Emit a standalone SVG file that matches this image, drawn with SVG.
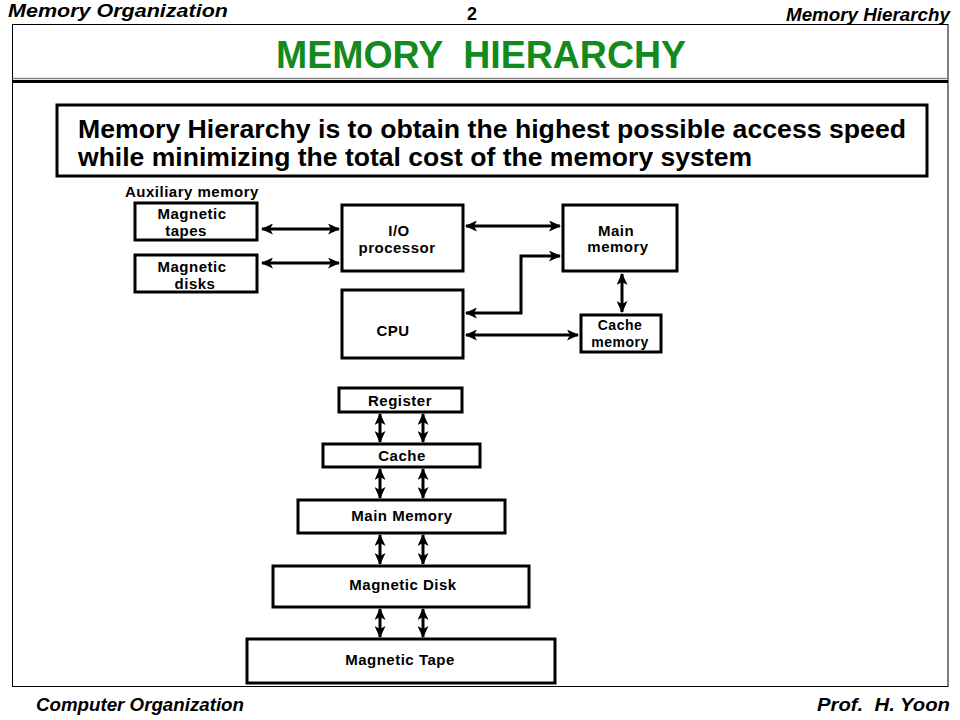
<svg xmlns="http://www.w3.org/2000/svg" width="960" height="720" viewBox="0 0 960 720">
<style>
.hdr{font-family:"Liberation Sans",Arial,sans-serif;font-weight:bold;font-style:italic;font-size:18px;fill:#000}
.ttl{font-family:"Liberation Sans",Arial,sans-serif;font-weight:bold;font-size:39px;fill:#128a1e}
.big{font-family:"Liberation Sans",Arial,sans-serif;font-weight:bold;font-size:25px;fill:#000}
.lbl{font-family:"Liberation Sans",Arial,sans-serif;font-weight:bold;font-size:15px;letter-spacing:0.5px;fill:#000}
.sm{font-size:14px}
.box{fill:#fff;stroke:#000;stroke-width:3}
.con{fill:none;stroke:#000;stroke-width:3}
</style>
<defs>
<marker id="ah" viewBox="0 0 12 11" refX="11" refY="5.5" markerWidth="12" markerHeight="11" markerUnits="userSpaceOnUse" orient="auto-start-reverse">
<path d="M0,0 L12,5.5 L0,11 L3,5.5 Z" fill="#000"/>
</marker>
</defs>
<rect width="960" height="720" fill="#fff"/>
<g id="frame">
<rect x="12.5" y="24.5" width="935.5" height="662" fill="none" stroke="#000" stroke-width="1"/>
<line x1="12.5" y1="78.5" x2="948" y2="78.5" stroke="#888" stroke-width="1.5"/>
<line x1="12.5" y1="81.5" x2="948" y2="81.5" stroke="#000" stroke-width="3"/>
</g>
<g id="header">
<text class="hdr" x="8" y="17" textLength="220" lengthAdjust="spacingAndGlyphs">Memory Organization</text>
<text class="hdr" x="467" y="20" style="font-style:normal">2</text>
<text class="hdr" x="950" y="21" text-anchor="end" textLength="164" lengthAdjust="spacingAndGlyphs">Memory Hierarchy</text>
<text class="ttl" x="481" y="68" text-anchor="middle" textLength="410" lengthAdjust="spacingAndGlyphs" xml:space="preserve">MEMORY  HIERARCHY</text>
</g>
<g id="statement">
<rect x="57" y="105" width="870" height="71" fill="#fff" stroke="#000" stroke-width="3"/>
<text class="big" x="78" y="138" textLength="828" lengthAdjust="spacingAndGlyphs">Memory Hierarchy is to obtain the highest possible access speed</text>
<text class="big" x="78" y="166" textLength="674" lengthAdjust="spacingAndGlyphs">while minimizing the total cost of the memory system</text>
</g>
<g id="aux-label">
<text class="lbl" x="125" y="197">Auxiliary memory</text>
</g>
<g id="connectors">
<line class="con" x1="262" y1="229" x2="339" y2="229" marker-start="url(#ah)" marker-end="url(#ah)"/>
<line class="con" x1="262" y1="263" x2="339" y2="263" marker-start="url(#ah)" marker-end="url(#ah)"/>
<line class="con" x1="466" y1="226" x2="560" y2="226" marker-start="url(#ah)" marker-end="url(#ah)"/>
<polyline class="con" points="466,313 521,313 521,256 560,256" marker-start="url(#ah)" marker-end="url(#ah)"/>
<line class="con" x1="466" y1="335" x2="578" y2="335" marker-start="url(#ah)" marker-end="url(#ah)"/>
<line class="con" x1="622" y1="274" x2="622" y2="312" marker-start="url(#ah)" marker-end="url(#ah)"/>
<line class="con" x1="380" y1="414" x2="380" y2="442" marker-start="url(#ah)" marker-end="url(#ah)"/>
<line class="con" x1="423" y1="414" x2="423" y2="442" marker-start="url(#ah)" marker-end="url(#ah)"/>
<line class="con" x1="380" y1="469" x2="380" y2="498" marker-start="url(#ah)" marker-end="url(#ah)"/>
<line class="con" x1="423" y1="469" x2="423" y2="498" marker-start="url(#ah)" marker-end="url(#ah)"/>
<line class="con" x1="380" y1="535" x2="380" y2="564" marker-start="url(#ah)" marker-end="url(#ah)"/>
<line class="con" x1="423" y1="535" x2="423" y2="564" marker-start="url(#ah)" marker-end="url(#ah)"/>
<line class="con" x1="380" y1="609" x2="380" y2="637" marker-start="url(#ah)" marker-end="url(#ah)"/>
<line class="con" x1="423" y1="609" x2="423" y2="637" marker-start="url(#ah)" marker-end="url(#ah)"/>
</g>
<g id="magnetic-tapes">
<rect class="box" x="135" y="203" width="122" height="37"/>
<text class="lbl" x="192" y="219" text-anchor="middle">Magnetic</text>
<text class="lbl" x="186" y="236" text-anchor="middle">tapes</text>
</g>
<g id="magnetic-disks">
<rect class="box" x="135" y="255" width="122" height="37"/>
<text class="lbl" x="192" y="272" text-anchor="middle">Magnetic</text>
<text class="lbl" x="195" y="289" text-anchor="middle">disks</text>
</g>
<g id="io-processor">
<rect class="box" x="342" y="205" width="121" height="66"/>
<text class="lbl" x="399" y="236" text-anchor="middle">I/O</text>
<text class="lbl" x="397" y="253" text-anchor="middle">processor</text>
</g>
<g id="cpu">
<rect class="box" x="342" y="290" width="121" height="68"/>
<text class="lbl" x="393" y="336" text-anchor="middle">CPU</text>
</g>
<g id="main-memory">
<rect class="box" x="563" y="205" width="114" height="66"/>
<text class="lbl" x="616" y="236" text-anchor="middle">Main</text>
<text class="lbl" x="618" y="252" text-anchor="middle">memory</text>
</g>
<g id="cache-memory">
<rect class="box" x="581" y="315" width="80" height="37"/>
<text class="lbl sm" x="620" y="330" text-anchor="middle">Cache</text>
<text class="lbl sm" x="620" y="347" text-anchor="middle">memory</text>
</g>
<g id="register">
<rect class="box" x="339" y="388" width="123" height="24"/>
<text class="lbl" x="400" y="406" text-anchor="middle">Register</text>
</g>
<g id="cache">
<rect class="box" x="323" y="444" width="157" height="23"/>
<text class="lbl" x="402" y="461" text-anchor="middle">Cache</text>
</g>
<g id="main-memory-level">
<rect class="box" x="298" y="500" width="207" height="33"/>
<text class="lbl" x="402" y="521" text-anchor="middle">Main Memory</text>
</g>
<g id="magnetic-disk-level">
<rect class="box" x="273" y="566" width="256" height="41"/>
<text class="lbl" x="403" y="590" text-anchor="middle">Magnetic Disk</text>
</g>
<g id="magnetic-tape-level">
<rect class="box" x="247" y="639" width="308" height="44"/>
<text class="lbl" x="400" y="665" text-anchor="middle">Magnetic Tape</text>
</g>
<g id="footer">
<text class="hdr" x="36" y="711" font-size="19" textLength="208" lengthAdjust="spacingAndGlyphs">Computer Organization</text>
<text class="hdr" x="950" y="711" text-anchor="end" textLength="133" lengthAdjust="spacingAndGlyphs" xml:space="preserve">Prof.  H. Yoon</text>
</g>
</svg>
